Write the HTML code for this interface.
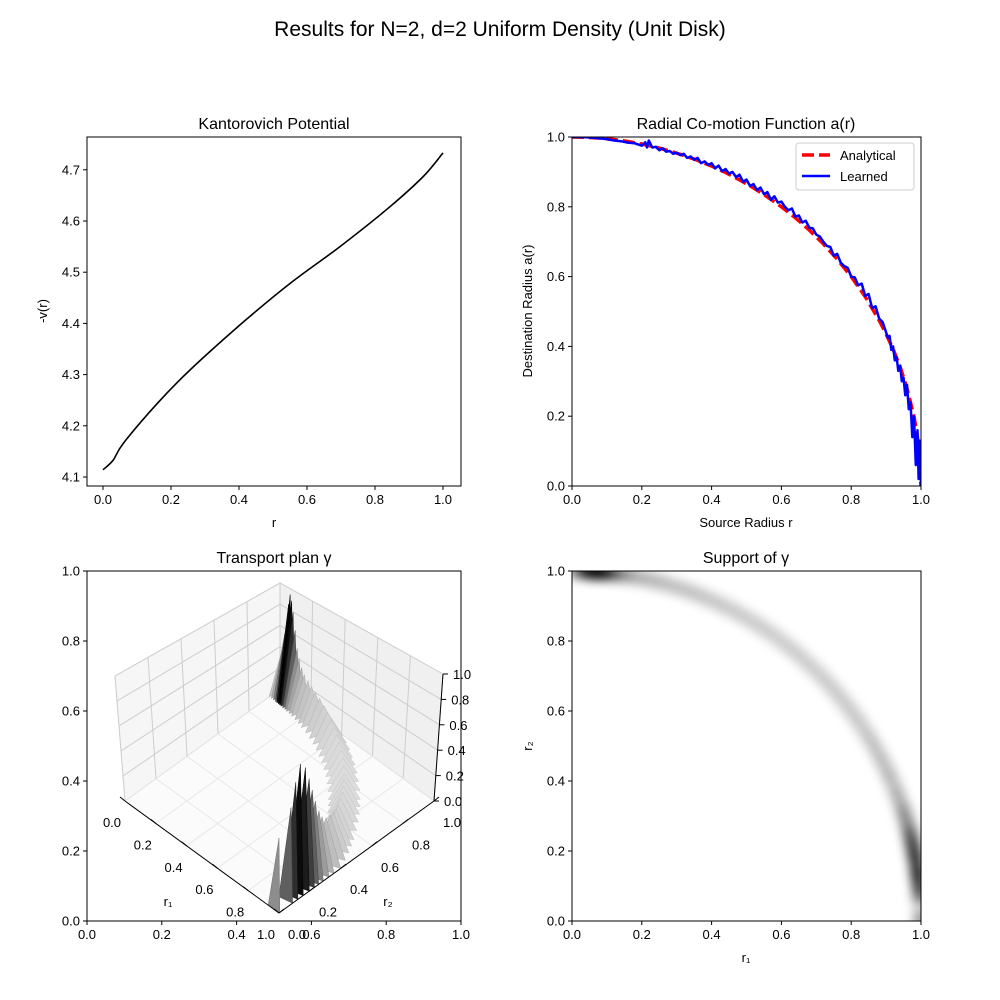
<!DOCTYPE html>
<html><head><meta charset="utf-8">
<style>
html,body{margin:0;padding:0;background:#fff;}
svg{display:block;font-family:"Liberation Sans","DejaVu Sans",sans-serif;}
</style></head>
<body>
<svg id="fig" width="1000" height="1000" viewBox="0 0 1000 1000" xmlns="http://www.w3.org/2000/svg">
<defs>
<clipPath id="clipTR"><rect x="572" y="137" width="349" height="349"/></clipPath>
<clipPath id="clipBR"><rect x="572" y="571" width="349" height="350"/></clipPath>
<filter id="blur" x="-50%" y="-50%" width="200%" height="200%"><feGaussianBlur stdDeviation="5"/></filter>
</defs>
<rect width="1000" height="1000" fill="#fff"/>
<text x="500" y="36" font-size="21" text-anchor="middle">Results for N=2, d=2 Uniform Density (Unit Disk)</text>
<g id="g1"></g>
<g id="g2"></g>
<g id="g3"></g>
<g id="g4"></g>
</svg>
<script>
// ---- data ----
const potR = [0, 0.03, 0.06, 0.16, 0.256, 0.403, 0.55, 0.697, 0.844, 0.942, 1.0];
const potV = [4.114, 4.133, 4.166, 4.244, 4.309, 4.397, 4.478, 4.550, 4.628, 4.687, 4.733];
const potXTicks = [0.0, 0.2, 0.4, 0.6, 0.8, 1.0];
const potYTicks = [4.1, 4.2, 4.3, 4.4, 4.5, 4.6, 4.7];

const anaR = [0,0.04,0.08,0.12,0.16,0.2,0.24,0.28,0.32,0.36,0.4,0.44,0.48,0.52,0.56,0.6,0.64,0.68,0.72,0.76,0.8,0.84,0.88,0.9,0.92,0.94,0.96,0.98,0.99,1.0];
const anaA = [1,0.9992,0.9968,0.9928,0.9871,0.9798,0.9708,0.96,0.9474,0.933,0.9165,0.898,0.8773,0.8542,0.8285,0.8,0.7684,0.7332,0.694,0.6499,0.6,0.5426,0.475,0.4359,0.3919,0.3412,0.28,0.199,0.141,0.0];
const lrnR = [0,0.02,0.04,0.06,0.08,0.1,0.12,0.14,0.16,0.18,0.2,0.21,0.215,0.22,0.23,0.24,0.25,0.26,0.27,0.28,0.29,0.3,0.31,0.32,0.33,0.34,0.35,0.36,0.37,0.38,0.39,0.4,0.41,0.42,0.43,0.44,0.45,0.46,0.47,0.48,0.49,0.5,0.51,0.52,0.53,0.54,0.55,0.56,0.57,0.58,0.59,0.6,0.61,0.62,0.63,0.64,0.65,0.66,0.67,0.68,0.69,0.7,0.71,0.72,0.73,0.74,0.75,0.76,0.77,0.78,0.79,0.8,0.81,0.82,0.83,0.84,0.85,0.86,0.87,0.88,0.89,0.9,0.905,0.91,0.915,0.92,0.925,0.93,0.935,0.94,0.945,0.95,0.955,0.96,0.965,0.97,0.975,0.98,0.985,0.99,0.993,0.996,1.0];
const lrnA = [1,1,0.999,0.998,0.996,0.994,0.99,0.988,0.984,0.982,0.975,0.985,0.97,0.99,0.97,0.972,0.962,0.968,0.958,0.96,0.952,0.955,0.948,0.952,0.94,0.944,0.935,0.94,0.925,0.93,0.92,0.925,0.91,0.918,0.902,0.908,0.895,0.9,0.885,0.892,0.872,0.878,0.86,0.865,0.848,0.855,0.836,0.842,0.82,0.83,0.812,0.815,0.8,0.79,0.795,0.772,0.775,0.755,0.76,0.74,0.738,0.72,0.715,0.7,0.688,0.685,0.66,0.665,0.64,0.63,0.625,0.6,0.598,0.575,0.58,0.545,0.55,0.51,0.515,0.48,0.47,0.44,0.425,0.43,0.39,0.4,0.36,0.37,0.33,0.345,0.3,0.31,0.26,0.29,0.22,0.24,0.14,0.2,0.06,0.16,0.02,0.13,0.0];
const unitTicks = [0.0, 0.2, 0.4, 0.6, 0.8, 1.0];

// ridge along the support curve: r1 positions and plan heights
const ridgeR1 = [0.0,0.015,0.03,0.045,0.055,0.065,0.075,0.085,0.1,0.115,0.13,0.15,0.17,0.2,0.23,0.26,0.3,0.34,0.38,0.42,0.46,0.5,0.54,0.58,0.62,0.66,0.7,0.73,0.76,0.79,0.82,0.85,0.87,0.89,0.91,0.93,0.945,0.955,0.965,0.972,0.978,0.984,0.99,0.994,0.997,1.0];
const ridgeH  = [0.3,0.4,0.55,0.7,0.85,0.95,0.9,0.8,0.65,0.5,0.42,0.36,0.32,0.3,0.28,0.27,0.26,0.25,0.24,0.23,0.22,0.21,0.21,0.2,0.2,0.2,0.2,0.21,0.21,0.22,0.23,0.24,0.25,0.27,0.3,0.33,0.38,0.45,0.55,0.65,0.75,0.85,0.9,0.8,0.65,0.5];
const zTicks = [0.0, 0.2, 0.4, 0.6, 0.8, 1.0];

const NS = "http://www.w3.org/2000/svg";
function mk(parent, tag, attrs, text){
  const e = document.createElementNS(NS, tag);
  for (const k in attrs) e.setAttribute(k, attrs[k]);
  if (text !== undefined) e.textContent = text;
  parent.appendChild(e);
  return e;
}
function fmt(v, d){ return v.toFixed(d); }

function frame(g, x0, y0, w, h){
  const f = mk(g, 'rect', {x:x0, y:y0, width:w, height:h, fill:'none', stroke:'#000', 'stroke-width':1});
  
  
}
function xticks(g, ticks, sx, yb, d){
  ticks.forEach(t => {
    const x = sx(t);
    const tk = mk(g, 'line', {x1:x, x2:x, y1:yb, y2:yb+4, stroke:'#000'});
    
    
    const lb = mk(g, 'text', {x:x, y:yb+18, 'font-size':13, 'text-anchor':'middle'}, fmt(t, d));
    
    
  });
}
function yticks(g, ticks, sy, xl, d){
  ticks.forEach(t => {
    const y = sy(t);
    const tk = mk(g, 'line', {x1:xl-4, x2:xl, y1:y, y2:y, stroke:'#000'});
    
    
    const lb = mk(g, 'text', {x:xl-7, y:y+4.5, 'font-size':13, 'text-anchor':'end'}, fmt(t, d));
    
    
  });
}
function title(g, x, y, s, name){
  const t = mk(g, 'text', {x:x, y:y, 'font-size':16, 'text-anchor':'middle'}, s);
  
  
}
function path(pts){ return pts.map((p,i)=>(i?'L':'M')+p[0].toFixed(1)+','+p[1].toFixed(1)).join(''); }
function smooth(pts){
  let d = 'M'+pts[0][0].toFixed(1)+','+pts[0][1].toFixed(1);
  for (let i=0;i<pts.length-1;i++){
    const p0=pts[Math.max(0,i-1)], p1=pts[i], p2=pts[i+1], p3=pts[Math.min(pts.length-1,i+2)];
    const c1=[p1[0]+(p2[0]-p0[0])/6, p1[1]+(p2[1]-p0[1])/6];
    const c2=[p2[0]-(p3[0]-p1[0])/6, p2[1]-(p3[1]-p1[1])/6];
    d += 'C'+c1[0].toFixed(1)+','+c1[1].toFixed(1)+' '+c2[0].toFixed(1)+','+c2[1].toFixed(1)+' '+p2[0].toFixed(1)+','+p2[1].toFixed(1);
  }
  return d;
}

// ---- Panel 1 ----
(function(){
  const g = document.getElementById('g1');
  const sx = v => 103 + 340*v;
  const sy = v => 477 - (v-4.1)*512;
  frame(g, 87, 137, 374, 349);
  const ln = mk(g, 'path', {d:smooth(potR.map((r,i)=>[sx(r), sy(potV[i])])), fill:'none', stroke:'#000', 'stroke-width':1.6});
  
  
  xticks(g, potXTicks, sx, 486, 1);
  yticks(g, potYTicks, sy, 87, 1);
  title(g, 274, 129, 'Kantorovich Potential', 'kantorovich-title');
  const xl = mk(g, 'text', {x:274, y:527, 'font-size':13, 'text-anchor':'middle'}, 'r');
  
  
  const yl = mk(g, 'text', {x:0, y:0, 'font-size':13, 'text-anchor':'middle', transform:'translate(47,311) rotate(-90)'}, '-v(r)');
  
  
})();

// ---- Panel 2 ----
(function(){
  const g = document.getElementById('g2');
  const sx = v => 572 + 349*v;
  const sy = v => 486 - 349*v;
  const cg = mk(g, 'g', {'clip-path':'url(#clipTR)'});
  const a = mk(cg, 'path', {d:path(anaR.map((r,i)=>[sx(r), sy(anaA[i])])), fill:'none', stroke:'#ff0000', 'stroke-width':3.5, 'stroke-dasharray':'12,5'});
  
  
  const l = mk(cg, 'path', {d:path(lrnR.map((r,i)=>[sx(r), sy(lrnA[i])])), fill:'none', stroke:'#0000ff', 'stroke-width':2.5, 'stroke-linejoin':'round'});
  
  
  frame(g, 572, 137, 349, 349);
  xticks(g, unitTicks, sx, 486, 1);
  yticks(g, unitTicks, sy, 572, 1);
  title(g, 746, 129, 'Radial Co-motion Function a(r)', 'comotion-title');
  const xl = mk(g, 'text', {x:746, y:527, 'font-size':13, 'text-anchor':'middle'}, 'Source Radius r');
  
  
  const yl = mk(g, 'text', {x:0, y:0, 'font-size':13, 'text-anchor':'middle', transform:'translate(532,311) rotate(-90)'}, 'Destination Radius a(r)');
  
  
  const lg = mk(g, 'g', {});
  
  
  mk(lg, 'rect', {x:796, y:143, width:118, height:47, rx:3, fill:'#fff', 'fill-opacity':0.85, stroke:'#ccc'});
  const e1 = mk(lg, 'line', {x1:802, x2:830, y1:155, y2:155, stroke:'#ff0000', 'stroke-width':3.5, 'stroke-dasharray':'12,5'});
  
  
  mk(lg, 'text', {x:840, y:160, 'font-size':13}, 'Analytical');
  const e2 = mk(lg, 'line', {x1:802, x2:830, y1:176, y2:176, stroke:'#0000ff', 'stroke-width':2.5});
  
  
  mk(lg, 'text', {x:840, y:181, 'font-size':13}, 'Learned');
})();

// ---- Panel 3 (3D) ----
(function(){
  const g = document.getElementById('g3');
  const sx = v => 87 + 374*v;
  const sy = v => 921 - 350*v;
  frame(g, 87, 571, 374, 350);
  xticks(g, unitTicks, sx, 921, 1);
  yticks(g, unitTicks, sy, 87, 1);
  title(g, 274, 563, 'Transport plan γ', 'transport-plan-title');
  const L=[125,801], dA=[154,112], dB=[155,-112];
  const upL=[-10,-125], upF=[0,-150], upR=[9,-127], upB=[0,-106];
  function P(a,b,z){
    const bx = L[0]+a*dA[0]+b*dB[0], by = L[1]+a*dA[1]+b*dB[1];
    const ux = (1-a)*(1-b)*upL[0]+a*(1-b)*upF[0]+a*b*upR[0]+(1-a)*b*upB[0];
    const uy = (1-a)*(1-b)*upL[1]+a*(1-b)*upF[1]+a*b*upR[1]+(1-a)*b*upB[1];
    return [bx+z*ux, by+z*uy];
  }
  const panes = mk(g, 'g', {});
  
  
  mk(panes, 'path', {d:path([P(0,0,0),P(0,1,0),P(0,1,1),P(0,0,1)])+'Z', fill:'#f6f6f6', stroke:'#ececec'});
  mk(panes, 'path', {d:path([P(0,1,0),P(1,1,0),P(1,1,1),P(0,1,1)])+'Z', fill:'#f0f0f0', stroke:'#ececec'});
  mk(panes, 'path', {d:path([P(0,0,0),P(1,0,0),P(1,1,0),P(0,1,0)])+'Z', fill:'#fbfbfb', stroke:'#f0f0f0'});
  const grid = mk(g, 'g', {stroke:'#cdcdcd', 'stroke-width':1, fill:'none'});
  
  
  unitTicks.forEach(t => {
    mk(grid, 'path', {d:path([P(0,t,0),P(0,t,1)])});
    mk(grid, 'path', {d:path([P(t,1,0),P(t,1,1)])});
    mk(grid, 'path', {d:path([P(0,0,t),P(0,1,t),P(1,1,t)])});
    mk(grid, 'path', {d:path([P(t,0,0),P(t,1,0)]), stroke:'#e8e8e8'});
    mk(grid, 'path', {d:path([P(0,t,0),P(1,t,0)]), stroke:'#e8e8e8'});
  });
  const surf = mk(g, 'g', {});
  
  
  ridgeR1.forEach((r1, i) => {
    const r2 = Math.sqrt(Math.max(0, 1 - r1*r1));
    const h = ridgeH[i];
    const w = 0.07;
    const p1 = P(Math.max(0,r1*(1-w)), Math.max(0,r2*(1-w)), 0);
    const p2 = P(Math.min(1,r1*(1+w)+0.005), Math.min(1,r2*(1+w)+0.005), 0);
    const top = P(r1, r2, h);
    const lvl = Math.round(Math.max(0, Math.min(250, 255 - 280*Math.pow(h,1.3))));
    const st = Math.max(0, lvl-25);
    const s = mk(surf, 'path', {d:path([p1, top, p2])+'Z', fill:'rgb('+lvl+','+lvl+','+lvl+')', stroke:'rgb('+st+','+st+','+st+')', 'stroke-width':0.5});
    
    
  });
  const ax = mk(g, 'g', {stroke:'#000', 'stroke-width':1});
  
  
  mk(ax, 'path', {d:path([P(0,0,0),P(1,0,0)])});
  mk(ax, 'path', {d:path([P(1,0,0),P(1,1,0)])});
  mk(ax, 'path', {d:path([P(1,1,0),P(1,1,1)])});
  unitTicks.forEach(t => {
    const a = P(t,0,0), c = P(1,t,0), d = P(1,1,t);
    mk(ax, 'line', {x1:a[0], y1:a[1], x2:a[0]-5, y2:a[1]-4});
    mk(ax, 'line', {x1:c[0], y1:c[1], x2:c[0]+5, y2:c[1]-4});
    mk(ax, 'line', {x1:d[0], y1:d[1], x2:d[0]+5, y2:d[1]});
    const l1 = mk(g, 'text', {x:a[0]-13, y:a[1]+26, 'font-size':13, 'text-anchor':'middle'}, fmt(t,1));
    
    
    const l2 = mk(g, 'text', {x:c[0]+18, y:c[1]+26, 'font-size':13, 'text-anchor':'middle'}, fmt(t,1));
    
    
  });
  zTicks.forEach(t => {
    const d = P(1,1,t);
    const l3 = mk(g, 'text', {x:d[0]+10, y:d[1]+5, 'font-size':13}, fmt(t,1));
    
    
  });
  const a1 = mk(g, 'text', {x:168, y:906, 'font-size':13, 'text-anchor':'middle'}, 'r₁');
  
  
  const a2 = mk(g, 'text', {x:388, y:906, 'font-size':13, 'text-anchor':'middle'}, 'r₂');
  
  
})();

// ---- Panel 4 ----
(function(){
  const g = document.getElementById('g4');
  const sx = v => 572 + 349*v;
  const sy = v => 921 - 350*v;
  const cg = mk(g, 'g', {'clip-path':'url(#clipBR)'});
  const hm = mk(cg, 'g', {filter:'url(#blur)'});
  
  
  const band = mk(hm, 'path', {d:path(ridgeR1.map(r1 => [sx(r1), sy(Math.sqrt(Math.max(0,1-r1*r1)))])), fill:'none', stroke:'#000', 'stroke-opacity':0.2, 'stroke-width':15});
  
  
  ridgeR1.forEach((r1, i) => {
    const r2 = Math.sqrt(Math.max(0, 1 - r1*r1));
    const h = ridgeH[i];
    const c = mk(hm, 'circle', {cx:sx(r1), cy:sy(r2), r:8, fill:'#000', 'fill-opacity':Math.max(0, Math.min(0.9, (h-0.2)*1.1))});
    
    
  });
  frame(g, 572, 571, 349, 350);
  xticks(g, unitTicks, sx, 921, 1);
  yticks(g, unitTicks, sy, 572, 1);
  title(g, 746, 563, 'Support of γ', 'support-title');
  const xl = mk(g, 'text', {x:746, y:962, 'font-size':13, 'text-anchor':'middle'}, 'r₁');
  
  
  const yl = mk(g, 'text', {x:0, y:0, 'font-size':13, 'text-anchor':'middle', transform:'translate(532,746) rotate(-90)'}, 'r₂');
  
  
})();
</script>
</body></html>
